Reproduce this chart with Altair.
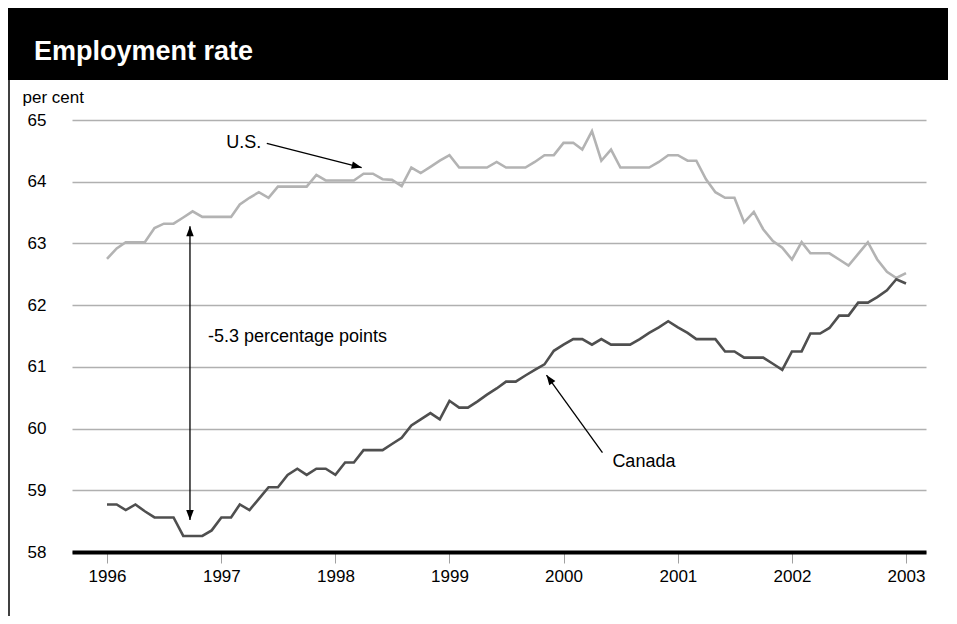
import math
import altair as alt
import pandas as pd

# ---------------- data ----------------
TITLE = "Employment rate"
UNIT_LABEL = "per cent"
YEAR_TICKS = [1996, 1997, 1998, 1999, 2000, 2001, 2002, 2003]
VALUE_TICKS = [58, 59, 60, 61, 62, 63, 64, 65]
SERIES = ["U.S.", "Canada"]
FIRST_MONTH = "1996-01-01"   # monthly observations, Jan 1996 - Jan 2003

US = [62.75, 62.92, 63.02, 63.02, 63.02, 63.25, 63.32, 63.32, 63.42, 63.52,
      63.43, 63.43, 63.43, 63.43, 63.63, 63.74, 63.83, 63.74, 63.92, 63.92,
      63.92, 63.92, 64.11, 64.02, 64.02, 64.02, 64.02, 64.13, 64.13, 64.04,
      64.03, 63.93, 64.23, 64.14, 64.24, 64.34, 64.43, 64.23, 64.23, 64.23,
      64.23, 64.32, 64.23, 64.23, 64.23, 64.32, 64.43, 64.43, 64.63, 64.63,
      64.52, 64.82, 64.34, 64.52, 64.23, 64.23, 64.23, 64.23, 64.32, 64.43,
      64.43, 64.34, 64.34, 64.04, 63.83, 63.74, 63.74, 63.34, 63.51, 63.23,
      63.04, 62.93, 62.74, 63.02, 62.84, 62.84, 62.84, 62.74, 62.64, 62.83,
      63.02, 62.74, 62.54, 62.44, 62.52]

CANADA = [58.77, 58.77, 58.68, 58.77, 58.66, 58.56, 58.56, 58.56, 58.26, 58.26,
          58.26, 58.35, 58.56, 58.56, 58.77, 58.68, 58.86, 59.05, 59.05, 59.25,
          59.35, 59.25, 59.35, 59.35, 59.25, 59.45, 59.45, 59.65, 59.65, 59.65,
          59.75, 59.85, 60.05, 60.15, 60.25, 60.15, 60.45, 60.34, 60.34, 60.44,
          60.55, 60.65, 60.76, 60.76, 60.86, 60.95, 61.04, 61.26, 61.36, 61.45,
          61.45, 61.36, 61.45, 61.36, 61.36, 61.36, 61.45, 61.55, 61.64, 61.74,
          61.64, 61.55, 61.45, 61.45, 61.45, 61.25, 61.25, 61.15, 61.15, 61.15,
          61.05, 60.95, 61.25, 61.25, 61.54, 61.54, 61.63, 61.83, 61.83, 62.04,
          62.04, 62.13, 62.24, 62.42, 62.35]

# annotation texts (label, fractional year of left edge, value)
LABELS = [("U.S.", 1997.042, 64.63),
          ("-5.3 percentage points", 1996.884, 61.48),
          ("Canada", 2000.428, 59.46)]
# arrows: (tail year, tail value, tip year, tip value, double-headed)
ARROWS = [(1997.398, 64.62, 1998.230, 64.23, False),
          (1996.727, 58.517, 1996.727, 63.28, True),
          (2000.341, 59.61, 1999.850, 60.867, False)]

# ---------------- layout ----------------
W, H = 854, 432
PAD = {"left": 64, "top": 112, "right": 22, "bottom": 64}
D0, D1 = pd.Timestamp("1995-09-11"), pd.Timestamp("2003-03-06")
VMIN, VMAX = 58, 65
FONT = "Liberation Sans, Arial, sans-serif"


def fy(y):
    base = pd.Timestamp(f"{int(y)}-01-01")
    return base + pd.Timedelta(days=(y - int(y)) * 365.25)


def to_px(d, v):
    x = (pd.Timestamp(d) - D0) / (D1 - D0) * W
    y = (VMAX - v) / (VMAX - VMIN) * H
    return x, y


def iso(ts):
    return ts.strftime("%Y-%m-%dT%H:%M:%S")


dates = pd.date_range(FIRST_MONTH, periods=len(US), freq="MS")
lines_df = pd.concat([
    pd.DataFrame({"date": dates.strftime("%Y-%m-%d"), "value": US, "series": "U.S."}),
    pd.DataFrame({"date": dates.strftime("%Y-%m-%d"), "value": CANADA, "series": "Canada"}),
])

text_df = pd.DataFrame([{"date": iso(fy(x)), "value": v, "label": t} for t, x, v in LABELS])

shaft_rows, head_rows = [], []
for ty, tv, hy, hv, double in ARROWS:
    t_date, h_date = fy(ty), fy(hy)
    shaft_rows.append({"date": iso(t_date), "value": tv, "date2": iso(h_date), "value2": hv})
    tx, tyy = to_px(t_date, tv)
    hx, hyy = to_px(h_date, hv)
    ang = math.degrees(math.atan2(hx - tx, -(hyy - tyy))) % 360
    head_rows.append({"date": iso(h_date), "value": hv, "angle": ang})
    if double:
        head_rows.append({"date": iso(t_date), "value": tv, "angle": (ang + 180) % 360})
shaft_df = pd.DataFrame(shaft_rows)
head_df = pd.DataFrame(head_rows)

x_scale = alt.Scale(domain=[D0.strftime("%Y-%m-%d"), D1.strftime("%Y-%m-%d")])
y_scale = alt.Scale(domain=[VMIN, VMAX], nice=False, zero=False)

X = alt.X("date:T", scale=x_scale, title=None,
          axis=alt.Axis(values=[alt.DateTime(year=y, month=1, date=1) for y in YEAR_TICKS],
                        format="%Y", grid=False, domain=True, domainColor="black",
                        domainWidth=4, ticks=True, tickColor="#a0a0a0", tickWidth=1,
                        tickSize=11, labelPadding=5, labelFont=FONT,
                        labelFontSize=17, labelColor="black", labelFlush=False))
Y = alt.Y("value:Q", scale=y_scale, title=UNIT_LABEL,
          axis=alt.Axis(values=VALUE_TICKS, grid=True, gridColor="#b0b0b0", gridWidth=1.5,
                        domain=False, ticks=False, labelPadding=26, labelFont=FONT,
                        labelFontSize=17, labelColor="black", titleAngle=0,
                        titleAlign="left", titleBaseline="alphabetic", titleX=-50,
                        titleY=-18, titleFont=FONT, titleFontSize=17,
                        titleFontWeight="normal", titleColor="black"))

banner = alt.Chart(alt.Data(values=[{}])).mark_rect(color="black").encode(
    x=alt.value(-PAD["left"]), x2=alt.value(W + PAD["right"]),
    y=alt.value(-PAD["top"]), y2=alt.value(-40))
banner_text = alt.Chart(alt.Data(values=[{}])).mark_text(
    text=TITLE, color="white", font=FONT, fontSize=27, fontWeight="bold",
    align="left", baseline="middle").encode(x=alt.value(-38), y=alt.value(-68))
frame = alt.Chart(alt.Data(values=[{}])).mark_rule(color="black", strokeWidth=1.5).encode(
    x=alt.value(-PAD["left"] + 1), y=alt.value(-40), y2=alt.value(H + PAD["bottom"]))

lines = alt.Chart(lines_df).mark_line(strokeWidth=2.6).encode(
    x=X, y=Y,
    color=alt.Color("series:N", scale=alt.Scale(domain=SERIES, range=["#b3b3b3", "#4f4f4f"]),
                    legend=None),
    detail="series:N")

shafts = alt.Chart(shaft_df).mark_rule(color="black", strokeWidth=1.3).encode(
    x=X, y=Y, x2="date2:T", y2="value2:Q")
heads = alt.Chart(head_df).mark_point(
    shape="M0,0L0.3,0.8L-0.3,0.8Z", filled=True, color="black", opacity=1,
    size=625, strokeWidth=0).encode(x=X, y=Y, angle=alt.Angle("angle:Q", scale=None))
texts = alt.Chart(text_df).mark_text(
    font=FONT, fontSize=18, color="black", align="left", baseline="middle").encode(
    x=X, y=Y, text="label:N")

chart = alt.layer(banner, banner_text, frame, lines, shafts, heads, texts).properties(
    width=W, height=H, autosize=alt.AutoSizeParams(type="none"), padding=PAD,
    background="white"
).configure_view(stroke=None)

chart.save("out.html", embed_options={"renderer": "svg", "actions": False})
